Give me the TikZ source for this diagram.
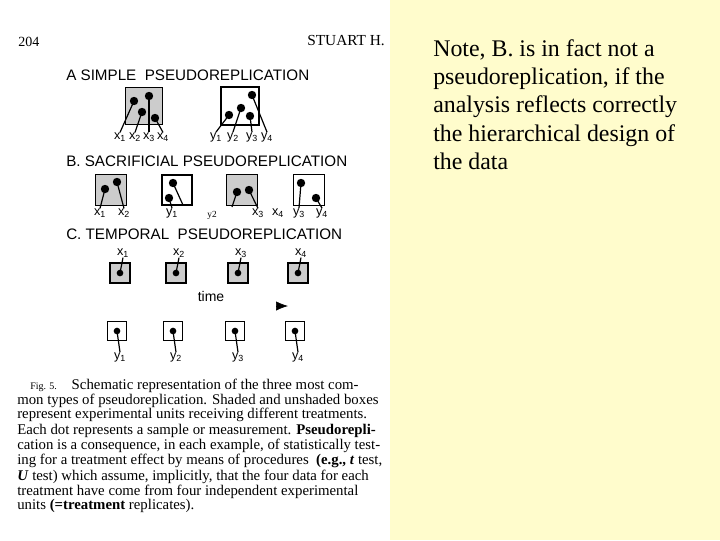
\documentclass[tikz,border=0pt]{standalone}
\usepackage{fontspec}
\usetikzlibrary{arrows.meta}
\setmainfont{Liberation Serif}
\setsansfont{Liberation Sans}
\begin{document}
\begin{tikzpicture}[x=0.75pt,y=-0.75pt,
  shbox/.style={draw,line width=1.2pt,fill=gray!40,minimum width=#1*0.75pt,minimum height=#1*0.75pt,inner sep=0pt},
  wbox/.style={draw,line width=1.2pt,fill=white,minimum width=#1*0.75pt,minimum height=#1*0.75pt,inner sep=0pt},
  dot/.style={circle,fill=black,inner sep=0pt,minimum size=6.3pt},
  sdot/.style={circle,fill=black,inner sep=0pt,minimum size=5pt},
  lab/.style={font=\sffamily\fontsize{9.5}{10}\selectfont,inner sep=0pt},
  head/.style={font=\sffamily\fontsize{11.4}{12}\selectfont,anchor=base west,inner sep=0pt},
  captext/.style={font=\fontsize{11.1}{12}\selectfont,anchor=base west,inner sep=0pt},
  note/.style={font=\fontsize{17.9}{21}\selectfont,anchor=base west,inner sep=0pt},
  ln/.style={line width=0.9pt}]
\fill[white] (0,0) rectangle (390,540);
\fill[yellow!20] (390,0) rectangle (720,540);
\useasboundingbox (0,0) rectangle (720,540);
\node[font=\fontsize{10.5}{12}\selectfont,anchor=base west,inner sep=0pt] (pg) at (18,46) {204};
\node[font=\fontsize{11.5}{12}\selectfont,anchor=base east,inner sep=0pt] (au) at (385,45) {STUART H.};
% A
\node[head] (ha) at (66,80) {A SIMPLE\ \ PSEUDOREPLICATION};
\node[shbox=37] (ba1) at (144,106) {};
\node[wbox=38] (ba2) at (240,106) {};
\node[dot] (a1) at (134,101) {}; \node[dot] (a2) at (142,112) {};
\node[dot] (a3) at (149,96) {}; \node[dot] (a4) at (155,118) {};
\node[dot] (b1) at (229,115) {}; \node[dot] (b2) at (241,108) {};
\node[dot] (b3) at (250,116) {}; \node[dot] (b4) at (252,95) {};
\node[lab] (la1) at (120,137) {x\textsubscript{1}};
\node[lab] (la2) at (135,137) {x\textsubscript{2}};
\node[lab] (la3) at (149,137) {x\textsubscript{3}};
\node[lab] (la4) at (163,137) {x\textsubscript{4}};
\node[lab] (lb1) at (216,137) {y\textsubscript{1}};
\node[lab] (lb2) at (233,137) {y\textsubscript{2}};
\node[lab] (lb3) at (252,137) {y\textsubscript{3}};
\node[lab] (lb4) at (267,137) {y\textsubscript{4}};
\foreach \d/\l in {a1/la1,a2/la2,a3/la3,a4/la4,b1/lb1,b2/lb2,b3/lb3,b4/lb4}
  \draw[ln] (\d.center) -- (\l.north);
% B
\node[head] (hb) at (66,166) {B. SACRIFICIAL PSEUDOREPLICATION};
\node[shbox=31] (bb1) at (111,190) {};
\node[wbox=30] (bb2) at (177,190) {};
\node[shbox=31] (bb3) at (242,190) {};
\node[wbox=31] (bb4) at (309,190) {};
\node[dot] (c1) at (105,189) {}; \node[dot] (c2) at (117,182) {};
\node[dot] (c3) at (173,183) {}; \node[dot] (c4) at (169,198) {};
\node[dot] (c5) at (237,192) {}; \node[dot] (c6) at (249,190) {};
\node[dot] (c7) at (301,183) {}; \node[dot] (c8) at (316,198) {};
\node[lab] (lc1) at (100,213) {x\textsubscript{1}};
\node[lab] (lc2) at (124,213) {x\textsubscript{2}};
\node[lab] (lc3) at (172,213) {y\textsubscript{1}};
\node[lab,font=\fontsize{7}{8}\selectfont] (lc4) at (212,215) {y2};
\node[lab] (lc5) at (258,213) {x\textsubscript{3}};
\node[lab] (lc6) at (278,213) {x\textsubscript{4}};
\node[lab] (lc7) at (299,213) {y\textsubscript{3}};
\node[lab] (lc8) at (322,213) {y\textsubscript{4}};
\coordinate (e3) at (183,205);
\coordinate (e5) at (232,207);
\draw[ln] (c1.center) -- (lc1.north);
\draw[ln] (c2.center) -- (lc2.north);
\draw[ln] (c3.center) -- (e3);
\draw[ln] (c4.center) -- (lc3.north);
\draw[ln] (c5.center) -- (e5);
\draw[ln] (c6.center) -- (lc5.north);
\draw[ln] (c7.center) -- (lc7.north);
\draw[ln] (c8.center) -- (lc8.north);
% C
\node[head] (hc) at (66,239) {C. TEMPORAL\ \ PSEUDOREPLICATION};
\foreach \i/\x in {1/120,2/176,3/238,4/298}{
  \node[shbox=20] (t\i) at (\x,273) {};
  \node[sdot] (td\i) at (\x,273) {};
  \node[lab] (tl\i) at (\x+3,253) {x\textsubscript{\i}};
  \draw[ln] (td\i.center) -- (tl\i.south);
  \node[wbox=19] (u\i) at (\x-3,331) {};
  \node[sdot] (ud\i) at (\x-3,331) {};
  \node[lab] (ul\i) at (\x,357) {y\textsubscript{\i}};
  \draw[ln] (ud\i.center) -- (ul\i.north);
}
\node[font=\sffamily\fontsize{10.5}{12}\selectfont] (time) at (211,296) {time};
\coordinate (arr0) at (280,306);
\coordinate (arr1) at (288,306);
\draw[-{Latex[length=9pt,width=7pt]},black,line width=0.5pt] (arr0) -- (arr1);
% caption
\node[captext] (p1) at (30,389) {{\fontsize{7.5}{8}\selectfont F\textsc{ig}. 5.}\quad Schematic representation of the three most com-};
\node[captext] (p2) at (17,404) {mon types of pseudoreplication. Shaded and unshaded boxes};
\node[captext] (p3) at (17,418) {represent experimental units receiving different treatments.};
\node[captext] (p4) at (17,434) {Each dot represents a sample or measurement. \textbf{Pseudorepli-}};
\node[captext] (p5) at (17,449) {cation is a consequence, in each example, of statistically test-};
\node[captext] (p6) at (17,464) {ing for a treatment effect by means of procedures\ \ \textbf{(e.g., \textit{t}} test,};
\node[captext] (p7) at (17,480) {\textbf{\textit{U}} test) which assume, implicitly, that the four data for each};
\node[captext] (p8) at (17,495) {treatment have come from four independent experimental};
\node[captext] (p9) at (17,509) {units \textbf{(=treatment} replicates).};
% note
\node[note] (n1) at (433,56) {Note, B. is in fact not a};
\node[note] (n2) at (433,84) {pseudoreplication, if the};
\node[note] (n3) at (433,112) {analysis reflects correctly};
\node[note] (n4) at (433,141) {the hierarchical design of};
\node[note] (n5) at (433,169) {the data};
\end{tikzpicture}
\end{document}
